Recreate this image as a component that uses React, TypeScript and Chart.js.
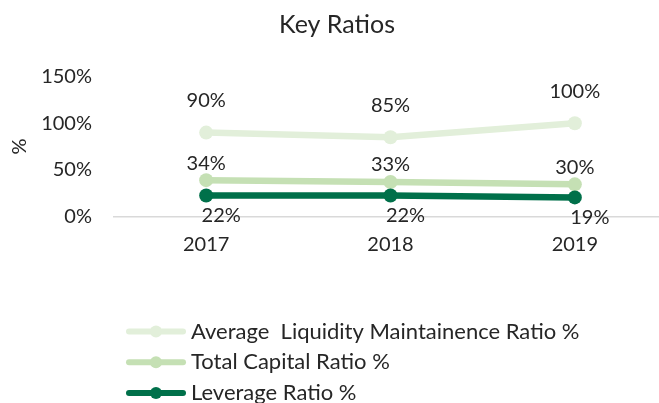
import React, { useEffect, useRef } from "react";
import { Chart, registerables } from "chart.js";

Chart.register(...registerables);

const categories = ["2017", "2018", "2019"];
const seriesNames = [
  "Average  Liquidity Maintainence Ratio %",
  "Total Capital Ratio %",
  "Leverage Ratio %",
];
const liquidityRatio = [90, 85, 100];
const capitalRatio = [39, 37, 34.5];
const leverageRatio = [22.5, 22.5, 20.5];
const liquidityLabels = ["90%", "85%", "100%"];
const capitalLabels = ["34%", "33%", "30%"];
const leverageLabels = ["22%", "22%", "19%"];
const yTickValues = [0, 50, 100, 150];

const FONT = "Lato, 'Open Sans', sans-serif";
const TEXT = "#262626";
const COLORS = ["#e2efda", "#c5e0b4", "#00704a"];

const dataLabelPlugin = {
  id: "dataLabels",
  afterDatasetsDraw(chart: any) {
    const ctx = chart.ctx;
    ctx.save();
    ctx.font = `20px ${FONT}`;
    ctx.fillStyle = TEXT;
    ctx.textAlign = "center";
    ctx.textBaseline = "middle";
    chart.data.datasets.forEach((ds: any, i: number) => {
      const meta = chart.getDatasetMeta(i);
      meta.data.forEach((pt: any, j: number) => {
        const txt = ds.labelTexts[j];
        ctx.fillText(txt, pt.x + ds.labelDx, pt.y + ds.labelDy);
      });
    });
    ctx.restore();
  },
};

const legendPlugin = {
  id: "customLegend",
  afterDraw(chart: any) {
    const ctx = chart.ctx;
    const area = chart.chartArea;
    const x0 = area.left + 13;
    ctx.save();
    chart.data.datasets.forEach((ds: any, i: number) => {
      const y = area.bottom + 115 + i * 30.7;
      ctx.strokeStyle = ds.borderColor;
      ctx.lineWidth = 6;
      ctx.lineCap = "round";
      ctx.beginPath();
      ctx.moveTo(x0 + 2, y);
      ctx.lineTo(x0 + 56, y);
      ctx.stroke();
      ctx.fillStyle = ds.borderColor;
      ctx.beginPath();
      ctx.arc(x0 + 29, y, 6, 0, Math.PI * 2);
      ctx.fill();
      ctx.fillStyle = TEXT;
      ctx.font = `22px ${FONT}`;
      ctx.textAlign = "left";
      ctx.textBaseline = "middle";
      ctx.fillText(ds.label, x0 + 64, y);
    });
    ctx.restore();
  },
};

export default function App() {
  const ref = useRef<HTMLCanvasElement | null>(null);

  useEffect(() => {
    if (!ref.current) return;
    const mk = (i: number, data: number[], labels: string[], dx: number, dy: number) => ({
      label: seriesNames[i],
      data,
      borderColor: COLORS[i],
      backgroundColor: COLORS[i],
      borderWidth: 6.5,
      borderCapStyle: "round",
      pointRadius: 7,
      pointBorderWidth: 0,
      pointBackgroundColor: COLORS[i],
      tension: 0,
      labelTexts: labels,
      labelDx: dx,
      labelDy: dy,
      order: 3 - i,
    });
    const chart = new Chart(ref.current, {
      type: "line",
      data: {
        labels: categories,
        datasets: [
          mk(0, liquidityRatio, liquidityLabels, 0, -32),
          mk(1, capitalRatio, capitalLabels, 0, -17),
          mk(2, leverageRatio, leverageLabels, 15, 20),
        ] as any,
      },
      options: {
        animation: false,
        responsive: false,
        devicePixelRatio: 1,
        layout: { padding: { left: 0, right: 0, top: 0, bottom: 126.5 } },
        plugins: {
          legend: { display: false },
          tooltip: { enabled: false },
          title: {
            display: true,
            text: "Key Ratios",
            color: TEXT,
            font: { family: FONT, size: 25, weight: "normal" },
            padding: { top: 10, bottom: 36.7 },
          },
        },
        scales: {
          x: {
            offset: true,
            grid: { display: false, drawTicks: false },
            border: { display: true, color: "#d9d9d9", width: 1.5 },
            ticks: { color: TEXT, font: { family: FONT, size: 20 }, padding: 16 },
            afterFit: (s: any) => {
              s.height = 60;
            },
          },
          y: {
            min: 0,
            max: 150,
            afterBuildTicks: (s: any) => {
              s.ticks = yTickValues.map((v) => ({ value: v }));
            },
            grid: { display: false, drawTicks: false },
            border: { display: false },
            ticks: {
              color: TEXT,
              font: { family: FONT, size: 20 },
              padding: 22,
              callback: (v: any) => `${v}%`,
            },
            title: {
              display: true,
              text: "%",
              color: TEXT,
              font: { family: FONT, size: 20 },
              padding: { top: 8, bottom: 4 },
            },
            afterFit: (s: any) => {
              s.width = 114;
            },
          },
        },
      } as any,
      plugins: [dataLabelPlugin, legendPlugin],
    });
    return () => chart.destroy();
  }, []);

  return (
    <div
      style={{
        position: "fixed",
        left: 0,
        top: 0,
        width: 659,
        height: 403,
        overflow: "hidden",
        background: "#fff",
      }}
    >
      <canvas ref={ref} width={674} height={403} style={{ display: "block" }} />
    </div>
  );
}
